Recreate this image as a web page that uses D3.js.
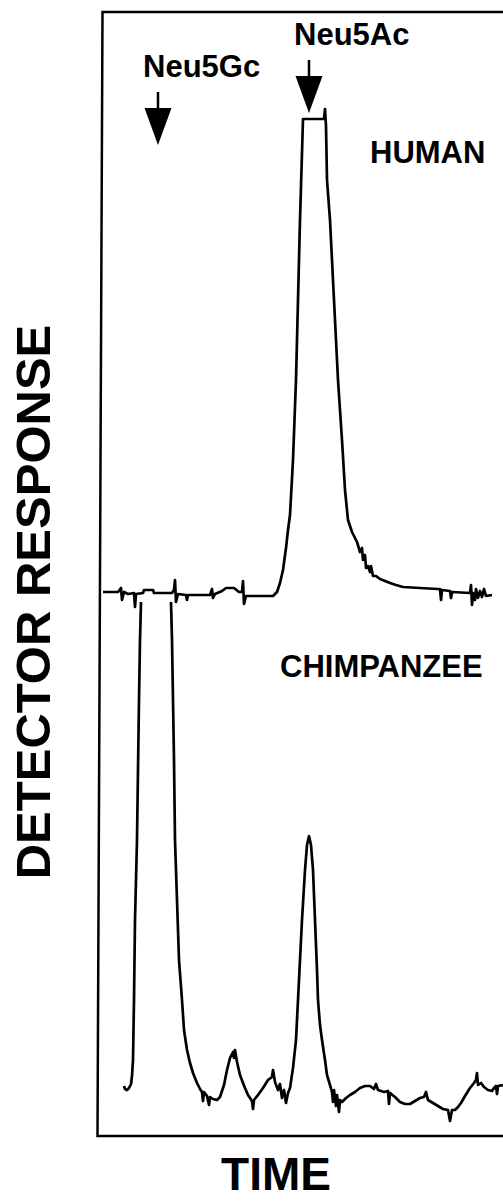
<!DOCTYPE html>
<html>
<head>
<meta charset="utf-8">
<script src="https://cdn.jsdelivr.net/npm/d3@7"></script>
<style>
  body { margin: 0; background: #fff; }
  text { font-family: "Liberation Sans", Arial, sans-serif; font-weight: bold; fill: #000; }
</style>
</head>
<body>
<div id="canvas"></div>
<script>
// time (arbitrary min) and detector response (arbitrary units)
let humanTime = [0.3, 1.8, 2.1, 2.2, 2.4, 2.8, 3.4, 3.5, 3.6, 4.3, 4.4, 5.3, 5.4, 7.2, 7.4, 7.5, 7.6, 7.8, 8.6, 8.7, 8.8,
    11.0, 11.2, 11.3, 11.5, 12.2, 12.6, 13.4, 13.9, 14.2, 14.3, 14.4, 14.6, 17.3, 17.7, 18.0, 18.3, 18.6, 18.8, 19.0,
    19.3, 19.6, 20.0, 20.3, 22.4, 22.5, 22.6, 22.7, 23.0, 23.4, 23.8, 24.2, 24.5, 24.8, 25.2, 25.7, 26.0, 26.2, 26.3,
    26.5, 26.6, 26.8, 27.0, 27.1, 27.3, 27.6, 28.0, 28.5, 29.0, 29.6, 30.3, 32.0, 33.8, 34.0, 34.1, 34.2, 35.0, 35.1,
    35.2, 37.0, 37.1, 37.2, 37.3, 37.5, 37.6, 37.8, 38.0, 38.2, 38.4, 38.6, 39.2];
let humanResp = [4, 4, 8, -4, 4, 2, 3, -11, 2, 3, 6, 6, 3, 3, 6, 16, -6, 2, 1, -4, 1,
    1, 7, -2, 2, 5, 8, 8, 4, 4, 15, -8, 0, 0, 4, 13, 26, 48, 66, 81,
    136, 216, 376, 477, 477, 487, 470, 416, 376, 296, 216, 156, 106, 76, 64, 54, 44, 48, 36,
    41, 28, 30, 24, 30, 20, 20, 17, 15, 13, 11, 9, 8, 7, 7, -4, 6, 5, -2,
    4, 3, 11, -9, 3, -4, 7, -2, 5, -1, 7, 0, 1];

let chimpTime = [2.4, 2.5, 2.7, 2.9, 3.1, 3.2, 3.3, 3.4, 3.5, 3.7, 3.9, 4.0, 4.1, 4.2, 5.6, 7.0, 7.1, 7.2, 7.4, 7.5,
    7.7, 7.9, 8.2, 8.4, 8.7, 9.0, 9.3, 9.7, 10.0, 10.2, 10.3, 10.4, 10.7, 10.9, 11.0, 11.3, 11.7, 12.0, 12.4, 12.7,
    13.0, 13.3, 13.4, 13.5, 13.7, 14.0, 14.3, 14.5, 14.8, 15.2, 15.3, 15.4, 15.8, 16.3, 16.8, 17.2, 17.3, 17.5, 17.8,
    18.0, 18.2, 18.4, 18.6, 18.8, 19.0, 19.3, 19.6, 19.8, 20.0, 20.2, 20.5, 20.7, 20.9, 21.1, 21.3, 21.5, 21.7, 21.8,
    22.0, 22.2, 22.5, 22.7, 23.0, 23.2, 23.3, 23.4, 23.6, 23.7, 23.9, 24.0, 24.2, 24.6, 25.0, 25.5, 26.0, 26.5, 27.0,
    27.4, 27.6, 27.8, 28.4, 28.8, 28.9, 29.0, 29.5, 30.0, 30.5, 31.0, 31.5, 32.0, 32.4, 32.6, 32.8, 33.3, 33.8, 34.3,
    34.8, 35.0, 35.2, 35.5, 35.8, 36.1, 36.5, 37.0, 37.4, 37.6, 37.7, 37.8, 38.1, 38.4, 38.8, 39.2, 39.4, 39.6, 39.7,
    39.8, 40.3];
let chimpResp = [14, 11, 10, 12, 16, 24, 40, 100, 180, 260, 400, 460, 498, 560, 680, 560, 498, 460, 340, 260,
    200, 140, 100, 70, 50, 37, 27, 17, 11, 8, -1, 8, 4, -5, 3, 1, 0, 3, 15, 30,
    42, 48, 42, 50, 38, 25, 17, 12, 5, -1, -9, 0, 5, 12, 20, 23, 30, 18, 10,
    16, 2, 10, -3, 7, 12, 32, 60, 100, 140, 180, 230, 255, 264, 255, 230, 180, 130, 100,
    75, 60, 40, 25, 15, 8, -2, 10, -6, 5, -12, 0, -2, 2, 5, 8, 12, 14, 14,
    11, 16, 10, 8, 9, -4, 7, 3, -2, -4, -4, -1, 2, 3, 8, 0, -3, -6, -9,
    -10, -21, -10, -10, -7, -3, 4, 12, 17, 20, 27, 15, 17, 13, 10, 9, 12, 14, 6,
    14, 15];

// arrows marking the standards
let markerNames = ["Neu5Gc", "Neu5Ac"];
let markerTime = [5.8, 20.9];

let sampleNames = ["HUMAN", "CHIMPANZEE"];

let width = 503, height = 1201;

let drawing = d3.select("#canvas")
    .append("svg")
    .attr("width", width)
    .attr("height", height);

let x = d3.scaleLinear().domain([0, 40]).range([100, 500]);
// each trace gets its own baseline; 1 unit = 1 px
let yHuman = d3.scaleLinear().domain([0, 500]).range([596, 96]);
let yChimp = d3.scaleLinear().domain([0, 498]).range([1100, 602]);

let humanData = humanTime.map((t, i) => [t, humanResp[i]]);
let chimpData = chimpTime.map((t, i) => [t, chimpResp[i]]);

// frame: top, left and bottom only (runs off the right edge); left side leans a little
let frameTop = 12, frameBottom = 1136;
drawing.append("path")
    .attr("d", "M" + (width + 5) + "," + frameTop + "L" + (x(0) + 2.5) + "," + frameTop +
        "L" + (x(0) - 2.5) + "," + frameBottom + "L" + (width + 5) + "," + frameBottom)
    .attr("fill", "none")
    .attr("stroke", "#000")
    .attr("stroke-width", 2.5);

// chimp trace goes off scale at the top of its channel
drawing.append("clipPath")
    .attr("id", "chimpClip")
    .append("rect")
    .attr("x", 0)
    .attr("y", yChimp.range()[1])
    .attr("width", width)
    .attr("height", height - yChimp.range()[1]);

let humanLine = d3.line().x(d => x(d[0])).y(d => yHuman(d[1]));
let chimpLine = d3.line().x(d => x(d[0])).y(d => yChimp(d[1]));

drawing.append("path")
    .attr("d", humanLine(humanData))
    .attr("fill", "none")
    .attr("stroke", "#000")
    .attr("stroke-width", 2.7)
    .attr("stroke-linejoin", "round");

drawing.append("path")
    .attr("d", chimpLine(chimpData))
    .attr("clip-path", "url(#chimpClip)")
    .attr("fill", "none")
    .attr("stroke", "#000")
    .attr("stroke-width", 2.7)
    .attr("stroke-linejoin", "round");

// standard markers: label, stem and filled head
let labelBase = [77, 45];
let stemTop = [92, 60];
markerTime.forEach((t, i) => {
    let cx = x(t);
    let st = stemTop[i];
    drawing.append("text")
        .attr("x", cx - 15)
        .attr("y", labelBase[i])
        .attr("font-size", 31)
        .text(markerNames[i]);
    drawing.append("line")
        .attr("x1", cx).attr("x2", cx)
        .attr("y1", st).attr("y2", st + 18)
        .attr("stroke", "#000")
        .attr("stroke-width", 2.5);
    drawing.append("path")
        .attr("d", "M" + (cx - 13.5) + "," + (st + 16) + "L" + (cx + 13.5) + "," + (st + 16) + "L" + cx + "," + (st + 53) + "Z")
        .attr("fill", "#000");
});

// sample labels
drawing.append("text")
    .attr("x", 370)
    .attr("y", 163)
    .attr("font-size", 31)
    .text(sampleNames[0]);

drawing.append("text")
    .attr("x", 280)
    .attr("y", 677)
    .attr("font-size", 31)
    .text(sampleNames[1]);

// axis titles
drawing.append("text")
    .attr("transform", "translate(50,602) rotate(-90)")
    .attr("text-anchor", "middle")
    .attr("font-size", 49)
    .text("DETECTOR RESPONSE");

drawing.append("text")
    .attr("x", 276)
    .attr("y", 1190)
    .attr("text-anchor", "middle")
    .attr("font-size", 46)
    .text("TIME");
</script>
</body>
</html>
